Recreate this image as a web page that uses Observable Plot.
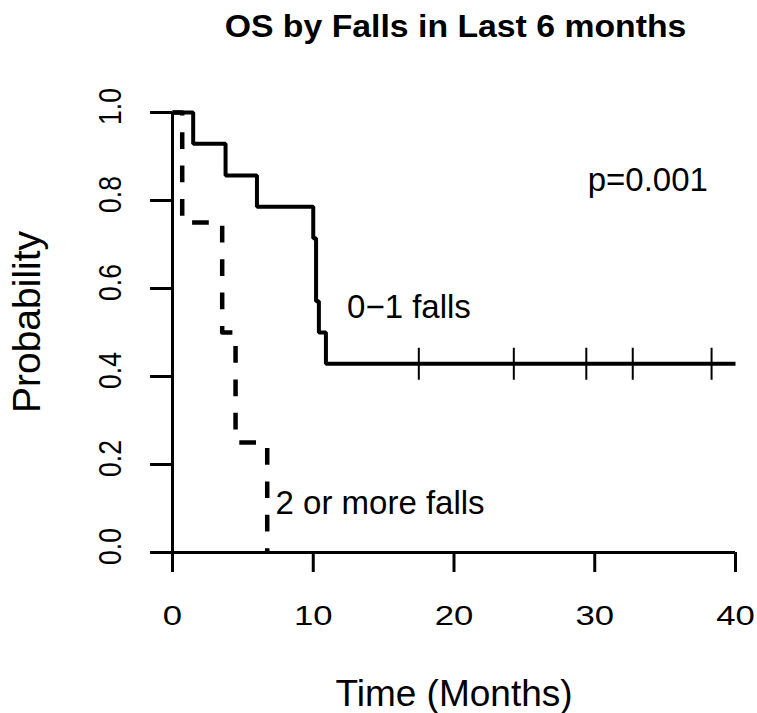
<!DOCTYPE html>
<html>
<head>
<meta charset="utf-8">
<script src="https://cdn.jsdelivr.net/npm/d3@7"></script>
<script src="https://cdn.jsdelivr.net/npm/@observablehq/plot@0.6"></script>
<style>
  html, body { margin: 0; padding: 0; background: #fff; }
</style>
</head>
<body>
<div id="chart"></div>
<script>
// ---- Data ----
const title = "OS by Falls in Last 6 months";
const xLabel = "Time (Months)";
const yLabel = "Probability";
const xTicks = [0, 10, 20, 30, 40];
const yTicks = [0, 0.2, 0.4, 0.6, 0.8, 1.0];
const yTickLabels = ["0.0", "0.2", "0.4", "0.6", "0.8", "1.0"];

// 0-1 falls group (solid)
const lowTime = [0, 1.47, 3.77, 6.0, 10.0, 10.2, 10.4, 10.9, 40];
const lowSurv = [1, 0.929, 0.857, 0.786, 0.714, 0.571, 0.5, 0.429, 0.429];
const lowCensorTime = [17.5, 24.25, 29.4, 32.7, 38.3];
const lowCensorSurv = [0.429, 0.429, 0.429, 0.429, 0.429];

// 2 or more falls group (dashed)
const highTime = [0, 0.69, 3.53, 4.48, 6.73];
const highSurv = [1, 0.75, 0.5, 0.25, 0];

// Annotations
const annotText = ["p=0.001", "0\u22121 falls", "2 or more falls"];
const annotX = [29.5, 12.4, 7.32];
const annotY = [0.845, 0.558, 0.111];

// ---- Build tables ----
const low = lowTime.map((t, i) => ({t, s: lowSurv[i]}));
const high = highTime.map((t, i) => ({t, s: highSurv[i]}));
const censor = lowCensorTime.map((t, i) => ({t, s: lowCensorSurv[i]}));
const annots = annotText.map((text, i) => ({text, x: annotX[i], y: annotY[i]}));
const yTickRows = yTicks.map((v, i) => ({v, label: yTickLabels[i]}));

const vbar = {
  draw(context, size) {
    const h = Math.sqrt(size / Math.PI);
    context.moveTo(0, -h);
    context.lineTo(0, h);
  }
};

const chart = Plot.plot({
  width: 757,
  height: 713,
  marginLeft: 172,
  marginRight: 22,
  marginTop: 112,
  marginBottom: 161,
  style: {fontFamily: "'Liberation Sans', Arial, Helvetica, sans-serif", background: "#fff", color: "#000"},
  x: {domain: [0, 40], label: null},
  y: {domain: [0, 1], label: null},
  marks: [
    // axis lines
    Plot.ruleY([0], {x1: 0, x2: 40, stroke: "#000", strokeWidth: 3}),
    Plot.ruleX([0], {y1: 0, y2: 1, stroke: "#000", strokeWidth: 3}),
    Plot.axisX({ticks: xTicks, tickSize: 20, tickPadding: 33, fontSize: 28, strokeWidth: 3, tickFormat: d => String(d), label: null}),
    Plot.axisY({ticks: yTicks, tickSize: 22, strokeWidth: 3, tickFormat: () => "", label: null}),
    Plot.text(yTickRows, {y: "v", text: "label", frameAnchor: "left", textAnchor: "middle", lineAnchor: "middle", dx: -62, dy: -6, rotate: -90, fontSize: 26.5, fill: "#000"}),
    // curves
    Plot.line(low, {x: "t", y: "s", curve: "step-after", stroke: "#000", strokeWidth: 4, strokeLinejoin: "miter", strokeLinecap: "butt"}),
    Plot.line(high, {x: "t", y: "s", curve: "step-after", stroke: "#000", strokeWidth: 4.5, strokeDasharray: "16.7,16.7", strokeDashoffset: 4, strokeLinecap: "butt"}),
    Plot.dot(censor, {x: "t", y: "s", symbol: vbar, r: 16, stroke: "#000", strokeWidth: 2}),
    // annotations
    Plot.text(annots, {x: "x", y: "y", text: "text", textAnchor: "start", lineAnchor: "middle", fontSize: 33, fill: "#000"}),
    // labels and title
    Plot.text([yLabel], {frameAnchor: "left", textAnchor: "middle", lineAnchor: "middle", text: d => d, dx: -144.5, dy: -10.5, rotate: -90, fontSize: 39, fill: "#000"}),
    Plot.text([xLabel], {frameAnchor: "bottom", textAnchor: "middle", lineAnchor: "middle", text: d => d, dy: 141.7, fontSize: 37, fill: "#000"}),
    Plot.text([title], {frameAnchor: "top", textAnchor: "middle", lineAnchor: "middle", text: d => d, dx: 1.5, dy: -85, fontSize: 31, fontWeight: "bold", fill: "#000"})
  ]
});

// Stretch glyphs (about each label's own anchor) to match the reference's wide glyphs
function stretch(selection, sx, sy) {
  selection.each(function () {
    const t = this.getAttribute("transform") || "";
    this.setAttribute("transform", `${t} scale(${sx},${sy})`);
  });
}
const svg = d3.select(chart);
const allText = svg.selectAll("text");
stretch(allText.filter(function () { return xTicks.map(String).includes(this.textContent); }), 1.24, 1);
stretch(allText.filter(function () { return yTickLabels.includes(this.textContent); }), 1, 1.2);
stretch(allText.filter(function () { return this.textContent === title; }), 1.09, 1);

document.getElementById("chart").appendChild(chart);
</script>
</body>
</html>
